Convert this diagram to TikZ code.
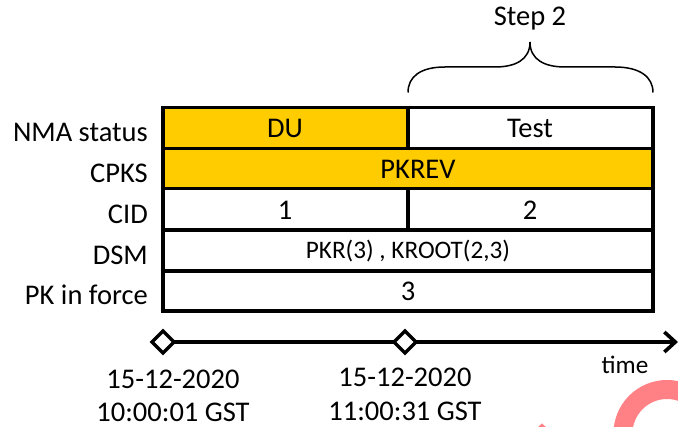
\documentclass[tikz,border=0pt]{standalone}
\usepackage{fontspec}
\setmainfont{Carlito}
\usetikzlibrary{arrows.meta,shapes.geometric}
\definecolor{amberfill}{HTML}{FFCC00}
\definecolor{ringpink}{HTML}{FF8085}
\tikzset{
  x=1pt,y=-1pt,
  cellbox/.style={draw=black,line width=3.2pt,line join=miter},
  rowlabel/.style={anchor=east,font=\fontsize{28.5}{28.5}\selectfont,inner sep=0pt},
  celltext/.style={font=\fontsize{28.5}{28.5}\selectfont,inner sep=0pt},
  smalltext/.style={font=\fontsize{25.2}{25.2}\selectfont,inner sep=0pt},
  milestone/.style={draw=black,fill=white,line width=3.2pt,diamond,minimum width=22pt,minimum height=22pt,inner sep=0pt,outer sep=0pt},
  axisline/.style={draw=black,line width=3.2pt},
}
\begin{document}
\begin{tikzpicture}
\useasboundingbox (0,0) rectangle (678,427);
\fill[white] (0,0) rectangle (678,427);
% watermark fragments
\begin{scope}
\clip (0,0) rectangle (678,427);
\draw[ringpink,line width=19pt] (667,433.5) circle (44);
\fill[ringpink] (537,428) -- (542,423.5) -- (547,428) -- cycle;
\end{scope}
% cells
\fill[amberfill] (163,107.5) rectangle (408,148.5);
\fill[amberfill] (163,148.5) rectangle (653,188.5);
\draw[cellbox] (163,107.5) rectangle (653,311);
\draw[cellbox] (163,148.5) -- (653,148.5);
\draw[cellbox] (163,188.5) -- (653,188.5);
\draw[cellbox] (163,230) -- (653,230);
\draw[cellbox] (163,271) -- (653,271);
\draw[cellbox] (408,107.5) -- (408,148.5);
\draw[cellbox] (408,188.5) -- (408,230);
% row labels
\node[rowlabel] (lnma) at (148,132) {NMA status};
\node[rowlabel] (lcpks) at (148,173) {CPKS};
\node[rowlabel] (lcid) at (148,214) {CID};
\node[rowlabel] (ldsm) at (148,255) {DSM};
\node[rowlabel] (lpk) at (148,295) {PK in force};
% cell text
\node[celltext] (du) at (285,128) {DU};
\node[celltext] (test) at (530,128) {Test};
\node[celltext] (pkrev) at (418,169) {PKREV};
\node[celltext] (one) at (285,210) {1};
\node[celltext] (two) at (530,210) {2};
\node[smalltext] (dsm) at (408,251) {PKR(3) , KROOT(2,3)};
\node[celltext] (three) at (408,291) {3};
% brace
\draw[black,line width=1.5pt] (408,92.5) .. controls (408,77) and (420,67) .. (445,67)
  -- (495,67) .. controls (515,67) and (530,60) .. (530,42)
  .. controls (530,60) and (545,67) .. (565,67)
  -- (615,67) .. controls (640,67) and (653,77) .. (653,92.5);
\node[celltext] (step) at (530,19) {Step 2};
% time axis
\node[milestone] (m1) at (163,342) {};
\node[milestone] (m2) at (405,342) {};
\coordinate (axisend) at (678,342);
\draw[axisline] (m1) -- (m2);
\draw[axisline,-{Straight Barb[length=11pt,width=20pt,line width=3.6pt]}] (m2) -- (axisend);
\node[smalltext] (time) at (625,365) {time};
\node[celltext] (d1a) at (173,379) {15-12-2020};
\node[celltext] (d1b) at (173,412) {10:00:01 GST};
\node[celltext] (d2a) at (405,377) {15-12-2020};
\node[celltext] (d2b) at (405,411) {11:00:31 GST};
\end{tikzpicture}
\end{document}
